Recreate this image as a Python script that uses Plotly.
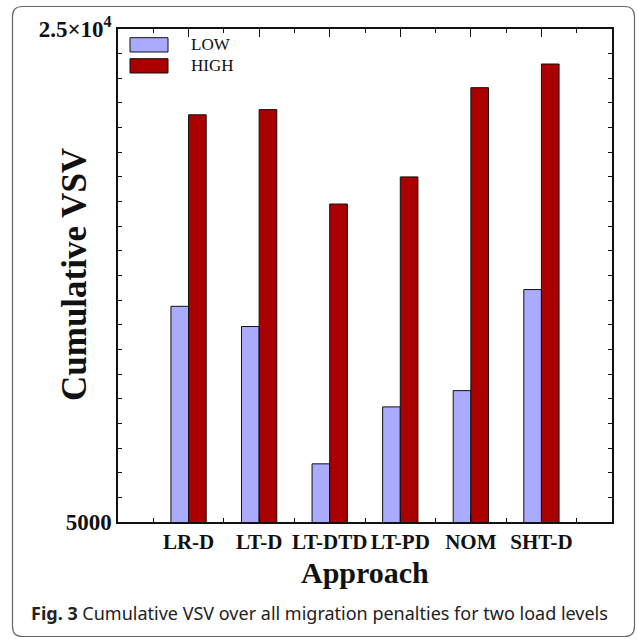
import plotly.graph_objects as go

# Data
approaches = ["LR-D", "LT-D", "LT-DTD", "LT-PD", "NOM", "SHT-D"]
low_vsv = [13750, 12930, 7360, 9670, 10330, 14430]
high_vsv = [21520, 21730, 17900, 19000, 22620, 23580]
y_label_values = [5000, 25000]
y_label_text = ["5000", "2.5×10<sup>4</sup>"]
y_major_unlabelled = [10000, 15000, 20000]

LOW_COLOR = "#aaaaff"
HIGH_COLOR = "#aa0000"
SERIF = "Liberation Serif, Times New Roman, serif"
INK = "#111111"

W, H = 637, 639
ML, MR, MT, MB = 118, 25, 29, 117
PW, PH = W - ML - MR, H - MT - MB

def px(x):
    return (x - ML) / PW

def py(y):
    return (H - MB - y) / PH

positions = list(range(1, len(approaches) + 1))

fig = go.Figure()
fig.add_trace(go.Bar(x=positions, y=low_vsv, name="LOW",
                     marker=dict(color=LOW_COLOR, line=dict(color=INK, width=1))))
fig.add_trace(go.Bar(x=positions, y=high_vsv, name="HIGH",
                     marker=dict(color=HIGH_COLOR, line=dict(color=INK, width=1))))

axis_common = dict(
    showline=True, linecolor=INK, linewidth=1.5, mirror="allticks",
    ticks="inside", ticklen=8, tickwidth=1.2, tickcolor=INK,
    showgrid=False, zeroline=False,
)

fig.update_layout(
    xaxis=dict(
        range=[0, 7], tickvals=positions, ticktext=[f"<b>{a}</b>" for a in approaches],
        tickfont=dict(family=SERIF, size=21, color=INK),
        minor=dict(ticks="inside", ticklen=4, tickwidth=1, tickcolor=INK, dtick=0.5, tick0=0),
        **axis_common,
    ),
    yaxis=dict(
        range=[5000, 25000], tickvals=y_label_values, ticktext=[f"<b>{t}</b>" for t in y_label_text],
        tickfont=dict(family=SERIF, size=23, color=INK),
        minor=dict(ticks="inside", ticklen=4, tickwidth=1, tickcolor=INK, dtick=1000, tick0=0),
        **axis_common,
    ),
    # unlabelled major ticks at 10k, 15k and 20k, on both sides
    yaxis2=dict(
        overlaying="y", matches="y", range=[5000, 25000], tickvals=y_major_unlabelled,
        showticklabels=False, ticks="inside", ticklen=8, tickwidth=1.2, tickcolor=INK,
        showline=False, mirror="allticks", showgrid=False, zeroline=False,
    ),
)

# Legend swatches and labels
legend_items = [("LOW", LOW_COLOR, 37.7, 52), ("HIGH", HIGH_COLOR, 58.7, 73)]
shapes = []
annotations = []
for label, color, top, bottom in legend_items:
    shapes.append(dict(type="rect", xref="paper", yref="paper",
                       x0=px(130), x1=px(168), y0=py(bottom), y1=py(top),
                       fillcolor=color, line=dict(color=INK, width=1)))
    annotations.append(dict(text=label, xref="paper", yref="paper",
                            x=px(189), y=py((top + bottom) / 2),
                            xanchor="left", yanchor="middle", showarrow=False,
                            font=dict(family=SERIF, size=17, color=INK)))

# Outer rounded frame
L, R, T, B, r = 12.5, 634.5, 6.5, 636.5, 10
path = (f"M {px(L + r)},{py(T)} L {px(R - r)},{py(T)} Q {px(R)},{py(T)} {px(R)},{py(T + r)} "
        f"L {px(R)},{py(B - r)} Q {px(R)},{py(B)} {px(R - r)},{py(B)} "
        f"L {px(L + r)},{py(B)} Q {px(L)},{py(B)} {px(L)},{py(B - r)} "
        f"L {px(L)},{py(T + r)} Q {px(L)},{py(T)} {px(L + r)},{py(T)} Z")
shapes.append(dict(type="path", xref="paper", yref="paper", path=path,
                   line=dict(color="#666666", width=1.2), layer="below"))

# Axis titles and caption
annotations.append(dict(text="<b>Cumulative VSV</b>", xref="paper", yref="paper",
                        x=px(74), y=py(275), textangle=-90, showarrow=False,
                        xanchor="center", yanchor="middle",
                        font=dict(family=SERIF, size=35, color=INK)))
annotations.append(dict(text="<b>Approach</b>", xref="paper", yref="paper",
                        x=px(365), y=py(572), showarrow=False,
                        xanchor="center", yanchor="middle",
                        font=dict(family=SERIF, size=30, color=INK)))
annotations.append(dict(text="<b>Fig. 3</b> Cumulative VSV over all migration penalties for two load levels",
                        xref="paper", yref="paper", x=px(29), y=py(613), showarrow=False,
                        xanchor="left", yanchor="middle",
                        font=dict(family="Noto Sans, sans-serif", size=18, color="#222222")))

fig.update_layout(
    width=W, height=H,
    margin=dict(l=ML, r=MR, t=MT, b=MB, autoexpand=False),
    paper_bgcolor="white", plot_bgcolor="white",
    barmode="group", bargap=0.5, bargroupgap=0,
    showlegend=False,
    shapes=shapes, annotations=annotations,
)

fig.write_html("out.html")
